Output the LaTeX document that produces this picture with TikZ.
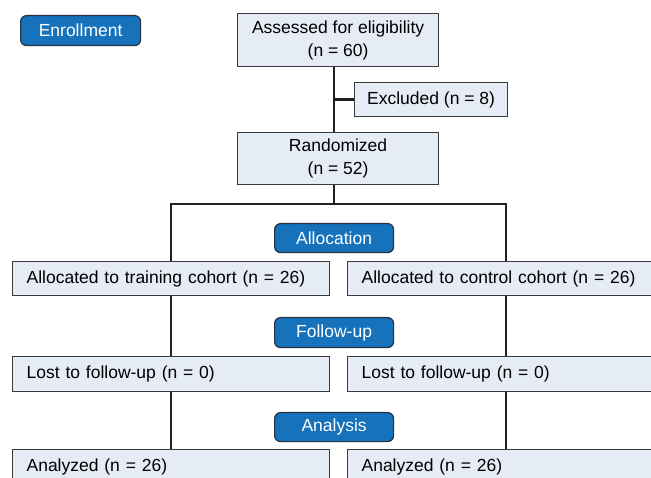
\documentclass[tikz,border=0pt]{standalone}
\usepackage{fontspec}
\setmainfont{Liberation Sans}
\usetikzlibrary{backgrounds}
\definecolor{boxfill}{HTML}{E5ECF6}
\definecolor{boxline}{HTML}{3A3A3A}
\definecolor{lblfill}{HTML}{1572BB}
\definecolor{lblline}{HTML}{253040}
\definecolor{connclr}{HTML}{231F20}
\begin{document}
\begin{tikzpicture}[x=1pt,y=-1pt, font=\fontsize{17.5}{23}\selectfont,
  cbox/.style={draw=boxline, fill=boxfill, line width=1.2pt, inner sep=0pt, align=center, anchor=north west},
  lbox/.style={draw=boxline, fill=boxfill, line width=1.2pt, inner xsep=14pt, inner ysep=0pt, text width=289pt, minimum height=34pt, align=left, anchor=north west},
  stage/.style={draw=lblline, fill=lblfill, text=white, line width=1.2pt, rounded corners=6pt, minimum width=119pt, minimum height=29pt, inner sep=0pt, anchor=north west},
  link/.style={draw=connclr, line width=2.6pt}]
\useasboundingbox (0,0) rectangle (651,478);
\clip (0,0) rectangle (651,478);
\coordinate (spine) at (334,0);
\coordinate (split) at (0,204);
\node[stage, minimum width=120pt, minimum height=30pt] (enr) at (20,15) {Enrollment};
\node[cbox, minimum width=201pt, minimum height=53pt] (assess) at (237,13) {Assessed for eligibility\\(n = 60)};
\node[cbox, minimum width=153pt, minimum height=34pt] (excl) at (354,82) {Excluded (n = 8)};
\node[cbox, minimum width=201pt, minimum height=52pt] (rand) at (237,132) {Randomized\\(n = 52)};
\node[stage] (alloc) at (274,223) {Allocation};
\node[lbox] (a1) at (12,261) {Allocated to training cohort (n = 26)};
\node[lbox] (a2) at (347,261) {Allocated to control cohort (n = 26)};
\node[stage, minimum height=30pt] (fu) at (274,317) {Follow-up};
\node[lbox, minimum height=35pt] (l1) at (12,356) {Lost to follow-up (n = 0)};
\node[lbox, minimum height=35pt] (l2) at (347,356) {Lost to follow-up (n = 0)};
\node[stage] (ana) at (274,412) {Analysis};
\node[lbox, minimum height=35pt] (n1) at (12,449) {Analyzed (n = 26)};
\node[lbox, minimum height=35pt] (n2) at (347,449) {Analyzed (n = 26)};
\begin{scope}[on background layer]
\fill[white] (0,0) rectangle (651,478);
\draw[link] (assess.south -| spine) -- (rand.north -| spine);
\draw[link] (excl.west) -- (excl.west -| spine);
\draw[link] (rand.south -| spine) -- (split -| spine);
\draw[link] (a1.north) -- (a1.north |- split) -- (a2.north |- split) -- (a2.north);
\draw[link] (a1.south) -- (l1.north);
\draw[link] (a2.south) -- (l2.north);
\draw[link] (l1.south) -- (n1.north);
\draw[link] (l2.south) -- (n2.north);
\end{scope}
\end{tikzpicture}
\end{document}
